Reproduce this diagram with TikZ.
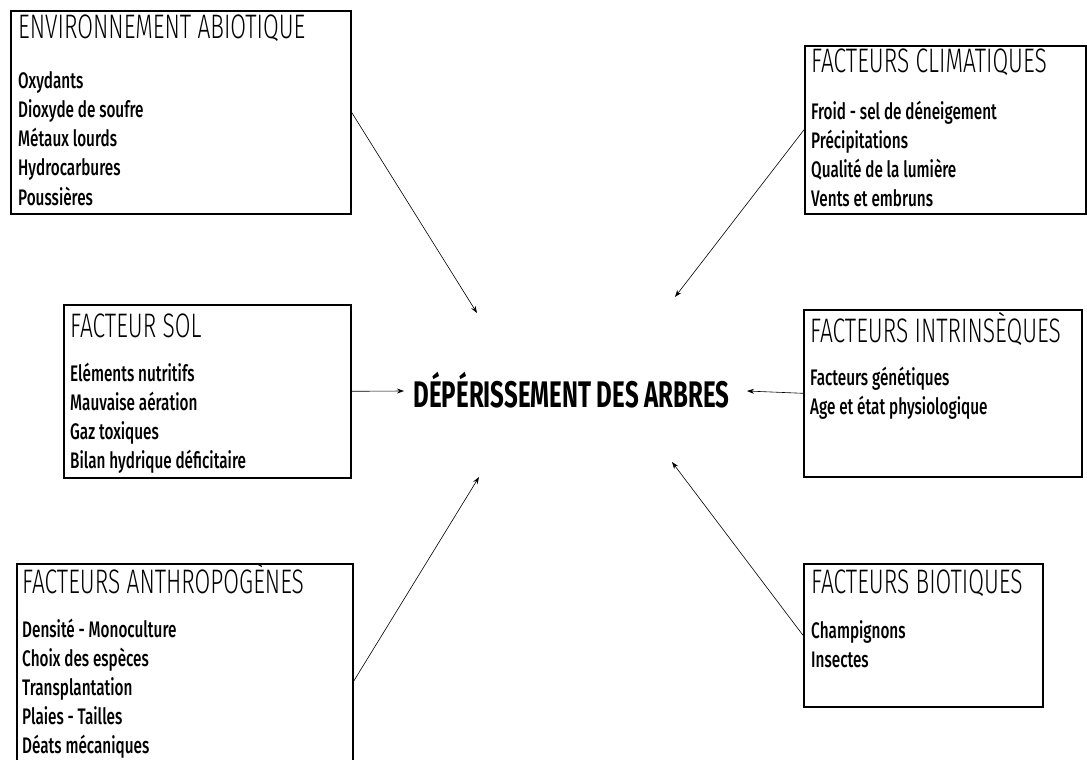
\documentclass[tikz,border=0pt]{standalone}
\usepackage{fontspec}
\setmainfont{Fira Sans Medium}[FakeStretch=0.68]
\newfontfamily\titlefont{Fira Sans Light}[FakeStretch=0.67]
\newfontfamily\headfont{Fira Sans}[FakeStretch=0.65]
\usetikzlibrary{arrows.meta, positioning}

\begin{document}
\begin{tikzpicture}[x=1pt, y=-1pt,
  factbox/.style={draw, line width=1.6pt, rectangle, anchor=north west, inner sep=0pt},
  boxtitle/.style={anchor=base west, inner sep=0pt, font=\titlefont\fontsize{34}{34}\selectfont},
  item/.style={anchor=base west, inner sep=0pt, font=\fontsize{22.5}{22.5}\selectfont},
  link/.style={-{Stealth[length=7pt, width=5pt]}, line width=0.6pt}]
\clip (0,0) rectangle (1087,760);

% centre
\node[anchor=base, inner sep=0pt, font=\headfont\bfseries\fontsize{37}{37}\selectfont] (dep) at (571.5,407) {DÉPÉRISSEMENT DES ARBRES};

% environnement abiotique
\node[factbox, minimum width=340pt, minimum height=203pt] (abio) at (10,10) {};
\node[boxtitle] (abio-t) at (18,39) {ENVIRONNEMENT ABIOTIQUE};
\foreach \txt [count=\i] in {Oxydants, Dioxyde de soufre, Métaux lourds, Hydrocarbures, Poussières}
  \node[item] (abio-\i) at (18,{58.8+29.25*\i}) {\txt};

% facteurs climatiques
\node[factbox, minimum width=281pt, minimum height=168pt] (clim) at (804,45) {};
\node[boxtitle] (clim-t) at (811,73) {FACTEURS CLIMATIQUES};
\foreach \txt [count=\i] in {Froid - sel de déneigement, Précipitations, Qualité de la lumière, Vents et embruns}
  \node[item] (clim-\i) at (811,{89.7+29.3*\i}) {\txt};

% facteur sol
\node[factbox, minimum width=287pt, minimum height=173pt] (sol) at (63,304) {};
\node[boxtitle] (sol-t) at (70,337) {FACTEUR SOL};
\foreach \txt [count=\i] in {Eléments nutritifs, Mauvaise aération, Gaz toxiques, Bilan hydrique déficitaire}
  \node[item] (sol-\i) at (70,{352+29*\i}) {\txt};

% facteurs intrinseques
\node[factbox, minimum width=278pt, minimum height=167pt] (intr) at (803,309) {};
\node[boxtitle] (intr-t) at (810,342) {FACTEURS INTRINSÈQUES};
\foreach \txt [count=\i] in {Facteurs génétiques, Age et état physiologique}
  \node[item] (intr-\i) at (810,{356+29*\i}) {\txt};

% facteurs anthropogenes
\node[factbox, minimum width=336pt, minimum height=235pt] (anth) at (16,563) {};
\node[boxtitle] (anth-t) at (22,593) {FACTEURS ANTHROPOGÈNES};
\foreach \txt [count=\i] in {Densité - Monoculture, Choix des espèces, Transplantation, Plaies - Tailles, Déats mécaniques}
  \node[item] (anth-\i) at (22,{609+28.8*\i}) {\txt};

% facteurs biotiques
\node[factbox, minimum width=239pt, minimum height=143pt] (biot) at (803,563) {};
\node[boxtitle] (biot-t) at (811,593) {FACTEURS BIOTIQUES};
\foreach \txt [count=\i] in {Champignons, Insectes}
  \node[item] (biot-\i) at (811,{609+29*\i}) {\txt};

% fleches
\coordinate (tip-abio) at (477,313);
\coordinate (tip-clim) at (675,297);
\coordinate (tip-sol) at (404,391);
\coordinate (tip-intr) at (747,391);
\coordinate (tip-anth) at (479,477);
\coordinate (tip-biot) at (672,462);
\draw[link] (abio.east) -- (tip-abio);
\draw[link] (clim.west) -- (tip-clim);
\draw[link] (sol.east) -- (tip-sol);
\draw[link] (intr.west) -- (tip-intr);
\draw[link] (anth.east) -- (tip-anth);
\draw[link] (biot.west) -- (tip-biot);
\end{tikzpicture}
\end{document}
